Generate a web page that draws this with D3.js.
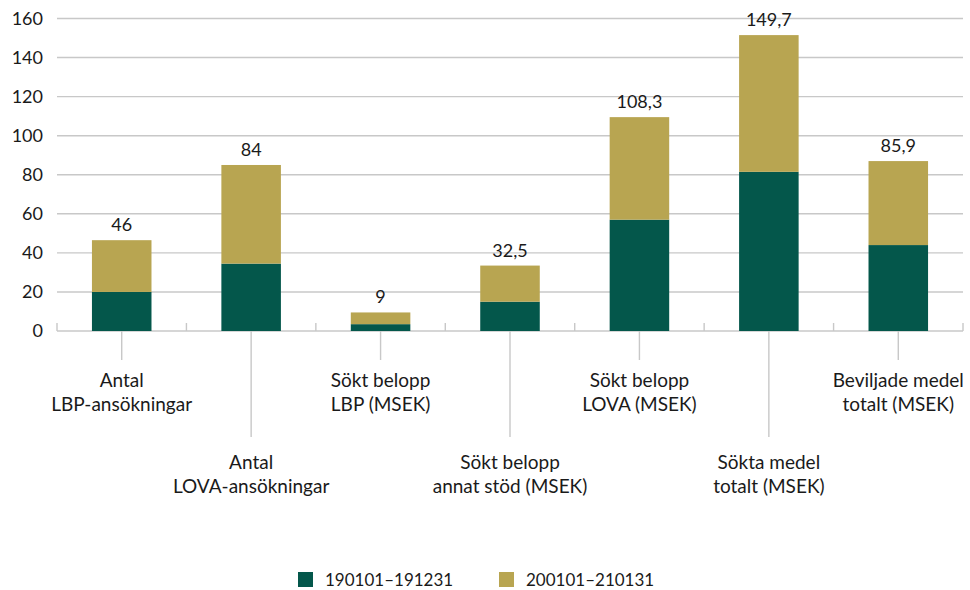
<!DOCTYPE html>
<html><head><meta charset="utf-8">
<script src="https://cdn.jsdelivr.net/npm/d3@7"></script>
<style>body{margin:0;background:#fff}svg{display:block}text{font-family:Lato,"Open Sans",sans-serif;fill:#1a1a1a}</style>
</head><body><svg id="c" width="970" height="590"></svg>
<script>
const categories = [
  ["Antal","LBP-ansökningar"],
  ["Antal","LOVA-ansökningar"],
  ["Sökt belopp","LBP (MSEK)"],
  ["Sökt belopp","annat stöd (MSEK)"],
  ["Sökt belopp","LOVA (MSEK)"],
  ["Sökta medel","totalt (MSEK)"],
  ["Beviljade medel","totalt (MSEK)"]
];
const series1 = [20, 34.5, 3.5, 15, 57, 81.5, 44];      // 190101–191231
const series2 = [26.5, 50.5, 6, 18.5, 52.5, 70, 43];    // 200101–210131
const totalLabels = ["46","84","9","32,5","108,3","149,7","85,9"];
const seriesNames = ["190101–191231","200101–210131"];
const yTicks = [0,20,40,60,80,100,120,140,160];
const colors = ["#04574b","#b8a551"];

(function(){
const svg = d3.select("#c");
const mL = 57, mR = 963, mT = 18.5, mB = 331;
const x = d3.scaleBand().domain(d3.range(categories.length)).range([mL,mR]).paddingInner(0).paddingOuter(0);
const y = d3.scaleLinear().domain([0,160]).range([mB,mT]);

// grid
svg.append("g").selectAll("line").data(yTicks).join("line")
  .attr("x1",mL).attr("x2",mR).attr("y1",d=>y(d)).attr("y2",d=>y(d))
  .attr("stroke","#c8c8c8").attr("stroke-width",1.4);
svg.append("g").selectAll("text").data(yTicks).join("text")
  .attr("x",43).attr("y",d=>y(d)).attr("dy","0.35em").attr("text-anchor","end")
  .style("font-size","18px").text(d=>d);

// stacked bars
const data = categories.map((c,i)=>({i, a:series1[i], b:series2[i]}));
const stack = d3.stack().keys(["a","b"])(data);
const bw = x.bandwidth()*0.46;
svg.append("g").selectAll("g").data(stack).join("g").attr("fill",(d,k)=>colors[k])
  .selectAll("rect").data(d=>d).join("rect")
  .attr("x",d=>x(d.data.i)+x.bandwidth()/2-bw/2).attr("width",bw)
  .attr("y",d=>y(d[1])).attr("height",d=>y(d[0])-y(d[1]));

// total labels
svg.append("g").selectAll("text").data(data).join("text")
  .attr("x",d=>x(d.i)+x.bandwidth()/2).attr("y",d=>y(d.a+d.b)-9)
  .attr("text-anchor","middle").style("font-size","18px").text((d,i)=>totalLabels[i]);

// x axis: boundary ticks
const bounds = d3.range(categories.length+1).map(i=>mL+i*x.bandwidth());
svg.append("g").selectAll("line").data(bounds).join("line")
  .attr("x1",d=>d).attr("x2",d=>d).attr("y1",mB).attr("y2",mB-8)
  .attr("stroke","#c8c8c8").attr("stroke-width",1.4);
// label leader lines
svg.append("g").selectAll("line").data(data).join("line")
  .attr("x1",d=>x(d.i)+x.bandwidth()/2).attr("x2",d=>x(d.i)+x.bandwidth()/2)
  .attr("y1",mB).attr("y2",d=>d.i%2===0?360:437)
  .attr("stroke","#c8c8c8").attr("stroke-width",1.4);
const lab = svg.append("g").selectAll("text").data(data).join("text")
  .attr("text-anchor","middle").style("font-size","19px");
lab.selectAll("tspan").data(d=>categories[d.i].map((t,j)=>({t,j,i:d.i}))).join("tspan")
  .attr("x",d=>x(d.i)+x.bandwidth()/2)
  .attr("y",d=>(d.i%2===0?380:462)+d.j*24).attr("dy","0.35em").text(d=>d.t);

// legend
const lg = svg.append("g");
const lx = [298,499];
seriesNames.forEach((n,k)=>{
  lg.append("rect").attr("x",lx[k]).attr("y",572).attr("width",15).attr("height",15).attr("fill",colors[k]);
  lg.append("text").attr("x",lx[k]+27).attr("y",580).attr("dy","0.35em").style("font-size","17px").text(n);
});
})();
</script></body></html>
